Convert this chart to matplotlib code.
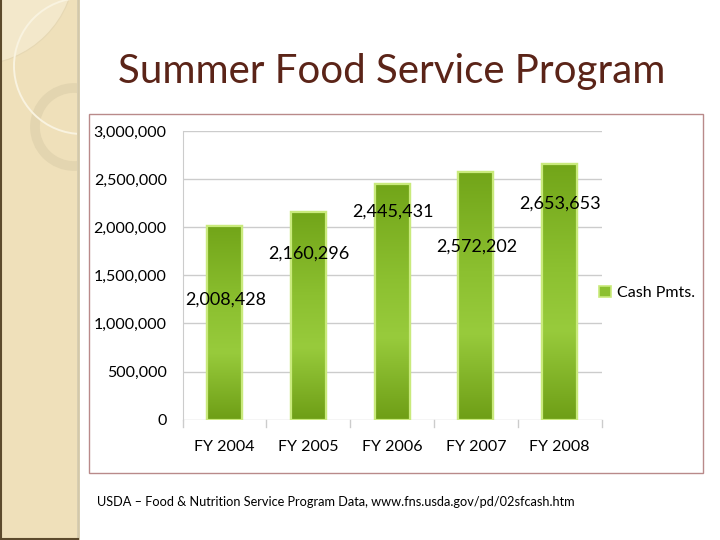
import matplotlib
matplotlib.use("Agg")
import matplotlib.pyplot as plt
import numpy as np
from matplotlib.patches import Rectangle, Circle
from matplotlib.colors import LinearSegmentedColormap

categories = ["FY 2004", "FY 2005", "FY 2006", "FY 2007", "FY 2008"]
values = [2008428, 2160296, 2445431, 2572202, 2653653]
series_name = "Cash Pmts."
yticks = [0, 500000, 1000000, 1500000, 2000000, 2500000, 3000000]
label_frac = [0.62, 0.80, 0.885, 0.70, 0.845]  # label placement within bar

title = "Summer Food Service Program"
footer = "USDA \u2013 Food & Nutrition Service Program Data, www.fns.usda.gov/pd/02sfcash.htm"

W, H = 720, 540
fig = plt.figure(figsize=(7.2, 5.4), dpi=100)
fig.patch.set_facecolor("white")
font = ["Lato", "DejaVu Sans"]

# --- background decoration (left strip) ---
bg = fig.add_axes([0, 0, 1, 1])
bg.set_xlim(0, W)
bg.set_ylim(H, 0)
bg.axis("off")
strip = Rectangle((0, 0), 77, H - 2, facecolor="#efe0ba", edgecolor="none", zorder=0)
bg.add_patch(strip)
light = Circle((-25, -35), 100, facecolor="#f3e8cb", edgecolor="#e6d8b4", lw=0.8, zorder=1)
bg.add_patch(light)
light.set_clip_path(strip)
ring = Circle((74, 127), 39, facecolor="none", edgecolor="#e3d5b0", lw=7, zorder=2)
bg.add_patch(ring)
ring.set_clip_path(strip)
arc = Circle((82, 66), 68, facecolor="none", edgecolor="#f9f3e0", lw=1.4, zorder=3)
bg.add_patch(arc)
arc.set_clip_path(strip)
bg.plot([77.5, 77.5], [0, H - 2], color="#d3c8a8", lw=2.0, zorder=4)
bg.plot([0.6, 0.6], [0, H], color="#5c4a2c", lw=1.5, zorder=4)
bg.plot([0, 78], [H - 1.5, H - 1.5], color="#5c4a2c", lw=1.5, zorder=4)

# chart frame
bg.add_patch(Rectangle((89, 114), 614, 359, facecolor="white",
                       edgecolor="#b98a8a", lw=1.0, zorder=1))

# title and footer
fig.text(392 / W, 1 - 72 / H, title, ha="center", va="center",
         fontsize=29, color="#5b2418", family=font)
fig.text(97 / W, 1 - 502 / H, footer, ha="left", va="center",
         fontsize=9.2, color="black", family=font)

# --- main axes ---
ax = fig.add_axes([182.7 / W, 1 - 419.6 / H, 418.8 / W, 288.6 / H])
ax.set_facecolor("none")
x = np.arange(len(categories))
ax.set_yticks(yticks)
ax.set_yticklabels([f"{v:,}" for v in yticks], fontsize=11.5, family=font)
ax.tick_params(axis="y", length=0, pad=11.5)
ax.yaxis.grid(True, color="#cccccc", lw=1.0)
ax.set_axisbelow(True)
for s in ["top", "right", "bottom"]:
    ax.spines[s].set_visible(False)
ax.spines["left"].set_color("#cccccc")

ax.set_xticks(x)
ax.set_xticklabels(categories, fontsize=11.5, family=font)
ax.tick_params(axis="x", length=0, pad=15)
for b in np.arange(len(categories) + 1) - 0.5:
    ax.plot([b, b], [0, -0.025], transform=ax.get_xaxis_transform(),
            color="#cccccc", lw=1.0, clip_on=False)

cmap = LinearSegmentedColormap.from_list(
    "g", [(0, "#6e9e16"), (0.35, "#98cb3c"), (0.6, "#8cc030"), (1.0, "#72a519")])
bw = 0.42
bars = ax.bar(x, values, width=bw, facecolor="#8cc030", edgecolor="#c9ea7c",
              lw=1.6, label=series_name, zorder=2)
grad = np.linspace(0, 1, 256).reshape(-1, 1)
for bar in bars:
    x0, w, h = bar.get_x(), bar.get_width(), bar.get_height()
    im = ax.imshow(grad, cmap=cmap, aspect="auto", origin="lower",
                   extent=[x0, x0 + w, 0, h], zorder=2.5)
    im.set_clip_path(bar)
    ax.add_patch(Rectangle((x0, 0), w, h, facecolor="none",
                           edgecolor="#c9ea7c", lw=1.6, zorder=3))
ax.set_xlim(-0.5, len(categories) - 0.5)
ax.set_ylim(0, 3000000)

for xi, v, f in zip(x, values, label_frac):
    ax.text(xi + 0.01, v * f, f"{v:,}", ha="center", va="center",
            fontsize=13, family=font, zorder=5)

leg = fig.legend(handles=[Rectangle((0, 0), 1, 1, facecolor="#8cc030",
                                    edgecolor="#c9ea7c", lw=1.2)],
                 labels=[series_name], loc="center left",
                 bbox_to_anchor=(593 / W, 1 - 293 / H), frameon=False,
                 prop={"family": font, "size": 11.5}, handlelength=0.7,
                 handleheight=0.7, handletextpad=0.4, borderaxespad=0)

fig.savefig("out.png", dpi=100)
